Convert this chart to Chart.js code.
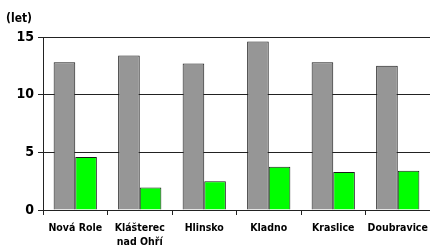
<!DOCTYPE html>
<html>
<head>
<meta charset="utf-8">
<script src="https://cdn.jsdelivr.net/npm/chart.js@4.4.0/dist/chart.umd.min.js"></script>
<style>
    html, body { margin: 0; padding: 0; background: #fff; }
    #wrap { width: 430px; height: 248px; position: relative; }
</style>
</head>
<body>
<div id="wrap"><canvas id="chart"></canvas></div>
<script>
const categories = ['Nová Role', ['Klášterec', 'nad Ohří'], 'Hlinsko', 'Kladno', 'Kraslice', 'Doubravice'];
const grayValues = [12.8, 13.4, 12.7, 14.6, 12.8, 12.5];
const greenValues = [4.6, 1.95, 2.5, 3.75, 3.3, 3.4];
const unitLabel = '(let)';

const FONT = '"DejaVu Sans Condensed", "DejaVu Sans", sans-serif';

const unitPlugin = {
    id: 'unitLabel',
    afterDraw(chart) {
        const ctx = chart.ctx;
        ctx.save();
        ctx.font = 'bold 12px ' + FONT;
        ctx.fillStyle = '#000';
        ctx.textBaseline = 'alphabetic';
        ctx.fillText(unitLabel, 6, chart.chartArea.top - 15);
        ctx.restore();
    }
};

new Chart(document.getElementById('chart'), {
    type: 'bar',
    data: {
        labels: categories,
        datasets: [
            {
                data: grayValues,
                backgroundColor: '#969696',
                borderColor: '#1a1a1a',
                borderWidth: 1,
                barPercentage: 1,
                categoryPercentage: 0.67,
            },
            {
                data: greenValues,
                backgroundColor: '#00ff00',
                borderColor: '#1a1a1a',
                borderWidth: 1,
                barPercentage: 1,
                categoryPercentage: 0.67,
            }
        ]
    },
    options: {
        responsive: true,
        maintainAspectRatio: false,
        animation: false,
        layout: { padding: { top: 37, right: 0, left: 0, bottom: 0 } },
        plugins: {
            legend: { display: false },
            tooltip: { enabled: false },
        },
        scales: {
            x: {
                offset: true,
                grid: {
                    offset: true,
                    drawOnChartArea: false,
                    drawTicks: true,
                    tickLength: 5,
                    color: '#222',
                },
                border: { color: '#222', width: 1 },
                ticks: {
                    color: '#000',
                    font: { family: FONT, size: 10.5, weight: 'bold', lineHeight: 1.35 },
                    padding: 6,
                    maxRotation: 0,
                    autoSkip: false,
                },
                afterFit(scale) {
                    scale.height = 38;
                    scale.paddingLeft = 0;
                    scale.paddingRight = 0;
                },
            },
            y: {
                min: 0,
                max: 15,
                ticks: {
                    stepSize: 5,
                    color: '#000',
                    font: { family: FONT, size: 14, weight: 'bold' },
                    padding: 4,
                },
                grid: {
                    color: '#222',
                    tickLength: 5,
                    drawTicks: true,
                },
                border: { color: '#222', width: 1 },
                afterFit(scale) { scale.width = 43; },
            },
        },
    },
    plugins: [unitPlugin],
});
</script>
</body>
</html>
